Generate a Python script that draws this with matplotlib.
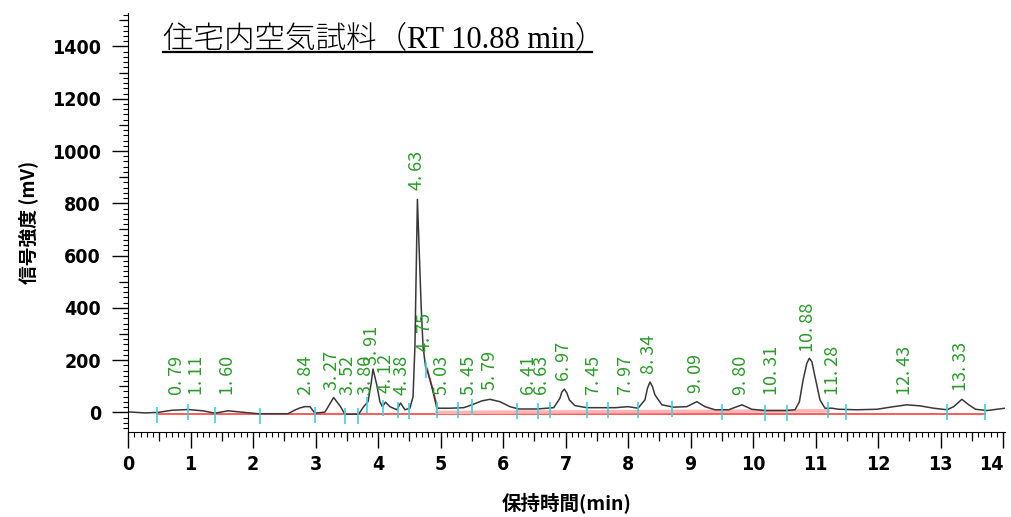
import numpy as np
import matplotlib
matplotlib.use("Agg")
import matplotlib.pyplot as plt
from matplotlib.ticker import MultipleLocator
from matplotlib.lines import Line2D
from matplotlib import font_manager as fm

# chromatogram trace: retention time (min) vs signal (mV)
time_min = [0.00, 0.27, 0.48, 0.70, 0.96, 1.20, 1.39, 1.60, 1.82, 2.08,
            2.56, 2.67, 2.75, 2.83, 2.91, 2.99, 3.15, 3.29, 3.40, 3.47,
            3.69, 3.77, 3.84, 3.89, 3.92, 3.98, 4.03, 4.07, 4.12, 4.19,
            4.30, 4.36, 4.43, 4.51, 4.56, 4.59, 4.63, 4.69, 4.72, 4.76,
            4.80, 4.86, 4.91, 4.94, 5.02, 5.15, 5.37, 5.50, 5.66, 5.79,
            5.95, 6.11, 6.25, 6.54, 6.81, 6.91, 6.94, 6.98, 7.02, 7.06,
            7.15, 7.34, 7.80, 8.00, 8.16, 8.27, 8.31, 8.35, 8.39, 8.43,
            8.54, 8.73, 8.94, 9.10, 9.23, 9.39, 9.61, 9.82, 9.98, 10.19,
            10.51, 10.67, 10.74, 10.80, 10.86, 10.90, 10.94, 10.99, 11.07, 11.15,
            11.26, 11.37, 11.66, 11.98, 12.25, 12.46, 12.67, 12.89, 13.10, 13.21,
            13.34, 13.45, 13.56, 13.74, 13.90, 14.03]
signal_mv = [2, -2, 0, 8, 11, 6, -3, 6, 1, -5,
             -5, 9, 17, 22, 22, -3, 1, 57, 22, -7,
             -7, 22, 41, 112, 166, 105, 41, 22, 39, 22,
             10, 36, 10, 16, 60, 252, 815, 405, 252, 175,
             150, 99, 48, 16, 16, 16, 18, 29, 44, 50,
             41, 22, 13, 13, 18, 54, 78, 89, 75, 48,
             26, 18, 18, 22, 16, 48, 92, 116, 99, 67,
             29, 20, 22, 41, 22, 10, 10, 29, 12, 7,
             7, 10, 40, 124, 188, 207, 194, 137, 48, 16,
             16, 12, 10, 12, 22, 29, 25, 16, 10, 22,
             50, 29, 12, 7, 12, 16]

# integrated peaks (retention times printed above the trace)
peak_rt = [0.79, 1.11, 1.60, 2.84, 3.27, 3.52, 3.80, 3.91, 4.12, 4.38,
           4.63, 4.75, 5.03, 5.45, 5.79, 6.41, 6.63, 6.97, 7.45, 7.97,
           8.34, 9.09, 9.80, 10.31, 10.88, 11.28, 12.43, 13.33]

# peak start / end marks
event_rt = [0.46, 0.96, 1.39, 2.11, 2.99, 3.47, 3.68, 3.82, 4.08, 4.32,
            4.50, 4.77, 4.94, 5.28, 5.50, 6.22, 6.56, 6.75, 7.34, 7.68,
            8.16, 8.70, 9.50, 10.19, 10.54, 11.20, 11.49, 13.10, 13.71]

title = "住宅内空気試料（RT 10.88 min）"

names = {f.name for f in fm.fontManager.ttflist}
tick_font = "Liberation Sans Narrow" if "Liberation Sans Narrow" in names else "DejaVu Sans"
jp_font = ["Noto Sans CJK JP", "DejaVu Sans"]

W, H = 1011, 517
fig = plt.figure(figsize=(W / 100, H / 100), dpi=100)
ax = fig.add_axes([128 / W, 85 / H, 877 / W, 419 / H])

t = np.array(time_min)
s = np.array(signal_mv)

# baselines
ax.plot([event_rt[0], event_rt[-1]], [-5, -5], color="#ff4040", lw=1.2, zorder=1)
ax.plot([event_rt[12], event_rt[25]], [0, 6], color="#ffb4b4", lw=2.5, zorder=1)
i0, i1 = event_rt[11], event_rt[12]
ax.plot([i0 + 0.015, i1 + 0.015], np.interp([i0, i1], t, s), color="#ff4040", lw=1.2, zorder=1)

ax.plot(t, s, color="#383838", lw=1.1, zorder=2)

ax.plot(event_rt, np.interp(event_rt, t, s) - 8, ls="none", marker="|",
        ms=12, mew=1.2, color="#3cd2e0", zorder=3)

for rt in peak_rt:
    y = max(np.interp(rt, t, s), 30) + 35
    ax.text(rt, y, f"{rt:.2f}".replace(".", ". "), rotation=90, ha="center",
            va="bottom", color="#2a9c2a", fontsize=13, family=jp_font, zorder=4)

ax.set_xlim(0, 14.03)
ax.set_ylim(-75, 1528)
for side in ("top", "right"):
    ax.spines[side].set_visible(False)

tick_kw = dict(fontsize=14, fontweight="bold", fontfamily=tick_font, fontstretch="condensed")
ax.set_xticks(np.arange(0, 15), [str(i) for i in range(15)], **tick_kw)
ax.set_yticks(np.arange(0, 1401, 200), [str(v) for v in range(0, 1401, 200)], **tick_kw)
ax.get_xticklabels()[-1].set_horizontalalignment("right")
ax.xaxis.set_minor_locator(MultipleLocator(0.1))
ax.yaxis.set_minor_locator(MultipleLocator(20))
ax.tick_params(which="major", length=11.5, width=1, direction="out")
ax.tick_params(which="minor", length=3.6, width=0.8, direction="out")
ax.tick_params(axis="x", which="major", pad=5)
ax.tick_params(axis="y", which="major", pad=8)

# medium ticks at half steps
secx = ax.secondary_xaxis("bottom")
secx.set_xticks(np.arange(0.5, 14, 1))
secx.tick_params(length=6.5, width=0.9, labelbottom=False)
secx.spines["bottom"].set_visible(False)
secy = ax.secondary_yaxis("left")
secy.set_yticks(np.arange(100, 1501, 200))
secy.tick_params(length=6.5, width=0.9, labelleft=False)
secy.spines["left"].set_visible(False)

ax.set_xlabel("保持時間(min)", family=jp_font, fontweight="bold", fontsize=14, labelpad=13)
ax.set_ylabel("信号強度 (mV)", family=jp_font, fontweight="bold", fontsize=13.5, labelpad=10)

fig.text(163 / W, 1 - 40 / H, title, ha="left", va="center", fontsize=22,
         family=["Liberation Serif", "Noto Sans CJK JP"], fontweight="light")
fig.add_artist(Line2D([163 / W, 592 / W], [1 - 52 / H] * 2, color="black", lw=1.6))

fig.savefig("out.png", dpi=100)
